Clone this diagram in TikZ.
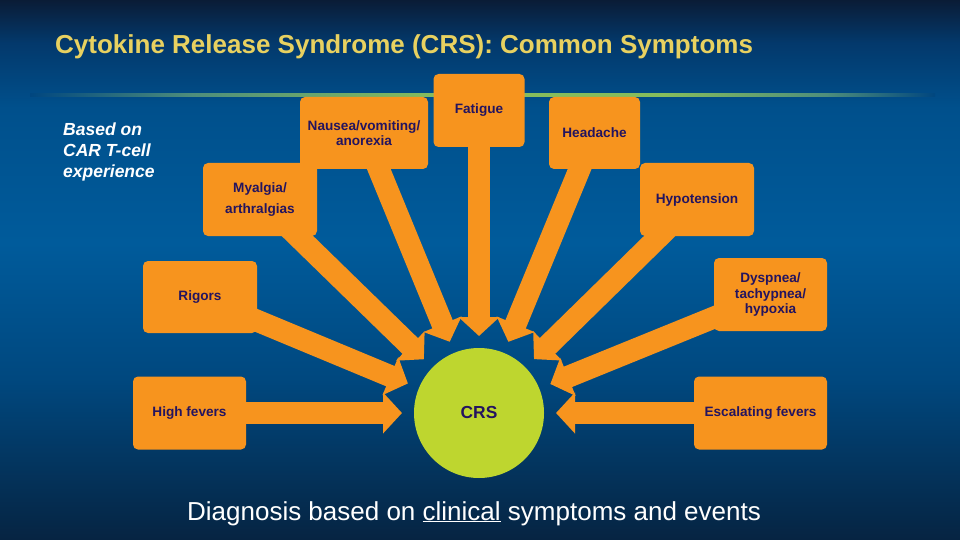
\documentclass[tikz,border=0pt]{standalone}
\usepackage{fontspec}
\setmainfont{Liberation Sans}
\usetikzlibrary{arrows.meta,positioning}
\definecolor{slidetop}{HTML}{0A1C36}
\definecolor{slidehigh}{HTML}{03396C}
\definecolor{slideup}{HTML}{00508C}
\definecolor{slidemid}{HTML}{005B9B}
\definecolor{slidelow}{HTML}{00487F}
\definecolor{slidebot}{HTML}{062442}
\definecolor{glowgreen}{HTML}{86BD5C}
\definecolor{glowsoft}{HTML}{4E8E7C}
\definecolor{glowfade}{HTML}{00467F}
\definecolor{crsorange}{HTML}{F7941E}
\definecolor{crsgreen}{HTML}{BED62F}
\definecolor{crsink}{HTML}{24145F}
\definecolor{titlegold}{HTML}{E8D160}
% tikz fits the path to the inner 25bp--75bp of a shading
\pgfdeclareverticalshading{slidebg}{100bp}{color(0bp)=(slidebot); color(25bp)=(slidebot);
  color(40bp)=(slidelow); color(52.5bp)=(slidemid); color(65bp)=(slideup);
  color(71bp)=(slidehigh); color(75bp)=(slidetop); color(100bp)=(slidetop)}
\pgfdeclarehorizontalshading{glowline}{100bp}{color(0bp)=(glowfade); color(25bp)=(glowfade);
  color(34bp)=(glowsoft); color(47.5bp)=(glowgreen); color(60bp)=(glowgreen);
  color(69bp)=(glowsoft); color(75bp)=(glowfade); color(100bp)=(glowfade)}
\pgfdeclarelayer{back}
\pgfdeclarelayer{arrows}
\pgfsetlayers{back,arrows,main}
\tikzset{
  % symptome
  symptom/.style={rectangle,rounded corners=5pt,fill=crsorange,text=crsink,
                  font=\fontsize{13.6}{15.5}\selectfont\bfseries,align=center,
                  inner sep=0pt,minimum height=73pt,minimum width=#1},
  hub/.style={circle,fill=crsgreen,text=crsink,minimum size=130pt,inner sep=0pt,
              outer sep=12pt,font=\fontsize{17.4}{20}\selectfont\bfseries},
  fat/.style={draw=crsorange,line width=22pt,-{Triangle[length=19pt,width=40pt]}},
}
\begin{document}
\begin{tikzpicture}[x=1pt,y=-1pt]
\useasboundingbox (0,0) rectangle (960,540);
\begin{pgfonlayer}{back}
  \shade[shading=slidebg] (0,0) rectangle (960,540);
  \shade[shading=glowline] (30,93.5) rectangle (935,96.5);
\end{pgfonlayer}
  \node[anchor=base west,inner sep=0pt,text=titlegold,
        font=\fontsize{26}{30}\selectfont\bfseries] (title) at (55,54)
        {Cytokine Release Syndrome (CRS): Common Symptoms};
  \node[anchor=north west,inner sep=0pt,text=white,align=left,
        font=\fontsize{17.5}{21}\selectfont\bfseries\itshape] (source) at (63,122.5)
        {Based on\\CAR T-cell\\experience};
  \node[hub] (crs) at (479,413) {CRS};
  \node[symptom=91pt] (fatigue) at (479,110.5) {Fatigue};
  \node[symptom=128pt,minimum height=72pt] (nausea) at (364,133) {Nausea/vomiting/\\anorexia};
  \node[symptom=91pt,minimum height=72pt] (headache) at (594.5,133) {Headache};
  \node[symptom=114pt] (myalgia) at (260,199.5) {Myalgia/\\[5.5pt]arthralgias};
  \node[symptom=114pt] (hypotension) at (697,199.5) {Hypotension};
  \node[symptom=114pt,minimum height=72pt] (rigors) at (200,297) {Rigors};
  \node[symptom=113pt] (highfev) at (189.5,413) {High fevers};
  \node[symptom=113pt] (dyspnea) at (770.5,294.5) {Dyspnea/\\tachypnea/\\hypoxia};
  \node[symptom=133pt] (escal) at (760.5,413) {Escalating fevers};
  \node[anchor=base,inner sep=0pt,text=white,
        font=\fontsize{26}{30}\selectfont] (note) at (474,520)
        {Diagnosis based on \underline{clinical} symptoms and events};
\begin{pgfonlayer}{arrows}
  \draw[fat] (fatigue.center) -- (crs);
  \draw[fat] (nausea.center) -- (crs);
  \draw[fat] (headache.center) -- (crs);
  \draw[fat] (myalgia.center) -- (crs);
  \draw[fat] (hypotension.center) -- (crs);
  \draw[fat] (rigors.center) -- (crs);
  \draw[fat] (highfev.center) -- (crs);
  \draw[fat] (dyspnea.center) -- (crs);
  \draw[fat] (escal.center) -- (crs);
\end{pgfonlayer}
\end{tikzpicture}
\end{document}
